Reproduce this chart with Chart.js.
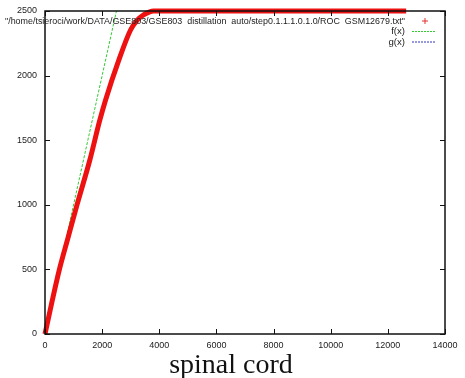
<!DOCTYPE html>
<html>
<head>
<meta charset="utf-8">
<script src="https://cdn.jsdelivr.net/npm/chart.js@4"></script>
<style>
  html, body { margin: 0; padding: 0; background: #fff; }
  #wrap { width: 465px; height: 378px; position: relative; }
</style>
</head>
<body>
<div id="wrap"><canvas id="roc"></canvas></div>
<script>
// ROC curve points (x = false positives, y = true positives)
const rocX = [0, 250, 505, 800, 1120, 1565, 1916, 2115, 2580, 2990, 3220, 3450, 3630, 3800, 12640];
const rocY = [0, 255, 500, 740, 1000, 1343, 1653, 1808, 2118, 2351, 2428, 2470, 2490, 2500, 2500];
// f(x) = x, drawn until it leaves the top of the plot
const fX = [0, 2500];
const fY = [0, 2500];
const xTicks = [0, 2000, 4000, 6000, 8000, 10000, 12000, 14000];
const yTicks = [0, 500, 1000, 1500, 2000, 2500];
const fileLabel = '"/home/tsieroci/work/DATA/GSE803/GSE803  distillation  auto/step0.1.1.1.0.1.0/ROC  GSM12679.txt"';
const caption = 'spinal cord';

const tickFont = { family: 'Liberation Sans, Arial, sans-serif', size: 9 };

// gnuplot style frame: border box, inward ticks, key and caption
const gnuplotFrame = {
  id: 'gnuplotFrame',
  afterDraw(chart) {
    const { ctx, chartArea: a, scales } = chart;
    ctx.save();
    ctx.strokeStyle = '#111';
    ctx.lineWidth = 1.5;
    ctx.strokeRect(a.left, a.top, a.right - a.left, a.bottom - a.top);
    ctx.lineWidth = 1;
    ctx.beginPath();
    xTicks.forEach(v => {
      const px = Math.round(scales.x.getPixelForValue(v)) + 0.5;
      ctx.moveTo(px, a.bottom); ctx.lineTo(px, a.bottom - 5);
      ctx.moveTo(px, a.top); ctx.lineTo(px, a.top + 5);
    });
    yTicks.forEach(v => {
      const py = Math.round(scales.y.getPixelForValue(v)) + 0.5;
      ctx.moveTo(a.left, py); ctx.lineTo(a.left + 5, py);
      ctx.moveTo(a.right, py); ctx.lineTo(a.right - 5, py);
    });
    ctx.stroke();

    // key
    ctx.font = '9.6px Liberation Sans, Arial, sans-serif';
    ctx.fillStyle = '#222';
    ctx.textAlign = 'right';
    ctx.textBaseline = 'middle';
    const kx = 405, ky = 21, row = 10.5;
    const w = ctx.measureText(fileLabel).width;
    ctx.save();
    ctx.translate(kx, ky);
    ctx.scale(Math.min(1, 400 / w), 1);
    ctx.fillText(fileLabel, 0, 0);
    ctx.restore();
    ctx.fillText('f(x)', kx, ky + row);
    ctx.fillText('g(x)', kx, ky + 2 * row);
    ctx.strokeStyle = '#e03030';
    ctx.beginPath();
    ctx.moveTo(422, ky); ctx.lineTo(428, ky);
    ctx.moveTo(425, ky - 3); ctx.lineTo(425, ky + 3);
    ctx.stroke();
    ctx.setLineDash([2, 1]);
    ctx.strokeStyle = '#33cc33';
    ctx.beginPath(); ctx.moveTo(412, ky + row); ctx.lineTo(436, ky + row); ctx.stroke();
    ctx.strokeStyle = '#3333bb';
    ctx.beginPath(); ctx.moveTo(412, ky + 2 * row); ctx.lineTo(436, ky + 2 * row); ctx.stroke();
    ctx.setLineDash([]);

    // caption under the plot
    ctx.font = '28px Liberation Serif, DejaVu Serif, serif';
    ctx.fillStyle = '#111';
    ctx.textAlign = 'center';
    ctx.fillText(caption, 231, 366);
    ctx.restore();
  }
};

new Chart(document.getElementById('roc'), {
  type: 'scatter',
  data: {
    datasets: [
      {
        label: 'ROC',
        data: rocX.map((x, i) => ({ x, y: rocY[i] })),
        showLine: true,
        borderColor: '#ee1111',
        borderWidth: 5,
        pointRadius: 0,
        cubicInterpolationMode: 'monotone',
        clip: false
      },
      {
        label: 'f(x)',
        data: fX.map((x, i) => ({ x, y: fY[i] })),
        showLine: true,
        borderColor: '#33cc33',
        borderWidth: 1,
        borderDash: [3, 1.5],
        pointRadius: 0
      }
    ]
  },
  options: {
    responsive: true,
    maintainAspectRatio: false,
    animation: false,
    layout: { padding: { top: 11, right: 20, left: 0, bottom: 0 } },
    plugins: { legend: { display: false }, tooltip: { enabled: false } },
    scales: {
      x: {
        type: 'linear',
        min: 0, max: 14000,
        afterBuildTicks: s => { s.ticks = xTicks.map(v => ({ value: v })); },
        afterFit: s => { s.height = 44; },
        grid: { display: false },
        border: { display: false },
        ticks: { font: tickFont, color: '#222', padding: -2, maxRotation: 0, callback: v => String(v) }
      },
      y: {
        type: 'linear',
        min: 0, max: 2500,
        afterBuildTicks: s => { s.ticks = yTicks.map(v => ({ value: v })); },
        afterFit: s => { s.width = 45; },
        grid: { display: false },
        border: { display: false },
        ticks: { font: tickFont, color: '#222', padding: 0, callback: v => String(v) }
      }
    }
  },
  plugins: [gnuplotFrame]
});
</script>
</body>
</html>
